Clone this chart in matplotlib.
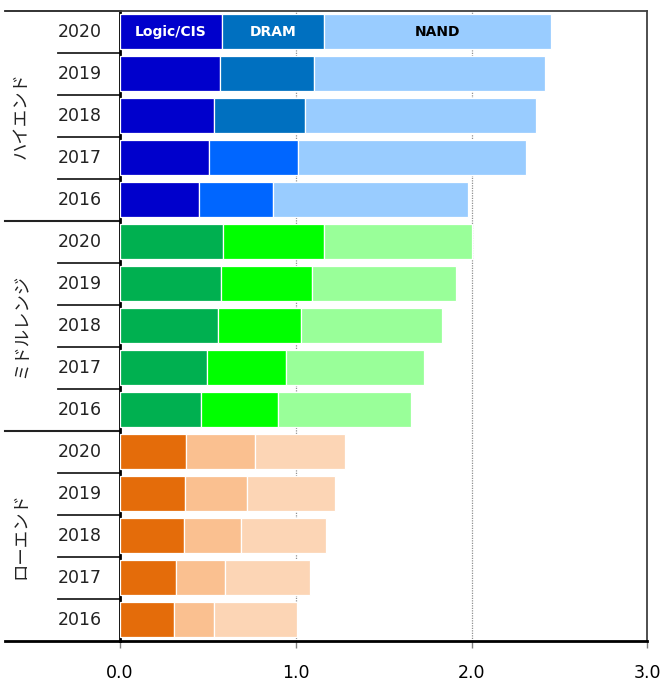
import matplotlib
matplotlib.use("Agg")
import matplotlib.pyplot as plt
import matplotlib.transforms as mtransforms

plt.rcParams['font.family'] = ['DejaVu Sans', 'Noto Sans CJK JP']

groups = ["ハイエンド", "ミドルレンジ", "ローエンド"]
years = ["2020", "2019", "2018", "2017", "2016"]
segments = ["Logic/CIS", "DRAM", "NAND"]

# values per group, years 2020 -> 2016
high_logic = [0.58, 0.57, 0.537, 0.505, 0.448]
high_dram = [0.58, 0.536, 0.516, 0.506, 0.425]
high_nand = [1.29, 1.314, 1.311, 1.298, 1.107]

mid_logic = [0.584, 0.577, 0.56, 0.495, 0.461]
mid_dram = [0.577, 0.516, 0.47, 0.448, 0.439]
mid_nand = [0.839, 0.819, 0.801, 0.789, 0.758]

low_logic = [0.376, 0.37, 0.364, 0.317, 0.309]
low_dram = [0.394, 0.353, 0.325, 0.283, 0.226]
low_nand = [0.51, 0.502, 0.481, 0.481, 0.47]

xticks = [0.0, 1.0, 2.0, 3.0]
xticklabels = ["0.0", "1.0", "2.0", "3.0"]

colors = {
    0: [["#0000CC"] * 5, ["#0070C0", "#0070C0", "#0070C0", "#0066FF", "#0066FF"], ["#99CCFF"] * 5],
    1: [["#00B050"] * 5, ["#00FF00"] * 5, ["#99FF99"] * 5],
    2: [["#E46C0A"] * 5, ["#FAC090"] * 5, ["#FCD5B5"] * 5],
}
data = [
    [high_logic, high_dram, high_nand],
    [mid_logic, mid_dram, mid_nand],
    [low_logic, low_dram, low_nand],
]

W, H = 660, 682
fig = plt.figure(figsize=(W / 100, H / 100), dpi=100)
left, right, top, bottom = 120, 647.3, 10.5, 640.7
ax = fig.add_axes([left / W, 1 - bottom / H, (right - left) / W, (bottom - top) / H])

bh = 0.84
for g in range(3):
    lefts = [0.0] * 5
    for s in range(3):
        vals = data[g][s]
        ys = [g * 5 + i for i in range(5)]
        ax.barh(ys, vals, left=lefts, height=bh, color=colors[g][s],
                edgecolor="white", linewidth=0.9, zorder=3)
        if g == 0:
            cx = lefts[0] + vals[0] / 2
            ax.text(cx, 0, segments[s], ha="center", va="center",
                    fontsize=10, fontweight="bold",
                    color="black" if s == 2 else "white", zorder=4)
        lefts = [a + b for a, b in zip(lefts, vals)]

ax.set_ylim(14.5, -0.5)
ax.set_xlim(0, 3.0)
ax.set_xticks(xticks)
ax.set_xticklabels(xticklabels, fontsize=12.5)
ax.set_yticks([])
ax.tick_params(axis="x", direction="out", length=5, width=1, color="#808080", pad=12)

for x in (1.0, 2.0):
    ax.axvline(x, color="#909090", linestyle=(0, (1, 1)), linewidth=0.9, zorder=1)

for sp in ("left", "bottom"):
    ax.spines[sp].set_linewidth(2)
    ax.spines[sp].set_color("black")
for sp in ("top", "right"):
    ax.spines[sp].set_linewidth(1.3)
    ax.spines[sp].set_color("#404040")

trans = mtransforms.blended_transform_factory(ax.transAxes, ax.transData)
ax_w = right - left
def ax_x(px):
    return (px - left) / ax_w

# year labels and separators
for g in range(3):
    for i, yr in enumerate(years):
        row = g * 5 + i
        ax.text(ax_x(80), row, yr, transform=trans, ha="center", va="center",
                fontsize=12.5, color="#222222")
        if i > 0:
            ax.plot([ax_x(58), 0], [row - 0.5, row - 0.5], transform=trans,
                    color="#222222", linewidth=1.3, clip_on=False)
    ax.text(ax_x(21), g * 5 + 2, groups[g], transform=trans, rotation=90,
            ha="center", va="center", fontsize=12.5, color="#222222",
            family=["Noto Sans CJK JP", "DejaVu Sans"])

for yb in (-0.5, 4.5, 9.5):
    ax.plot([ax_x(5), 0], [yb, yb], transform=trans, color="#222222",
            linewidth=1.5 if yb > 0 else 1.3, clip_on=False)
ax.plot([ax_x(5), 0], [14.5, 14.5], transform=trans, color="black",
        linewidth=2, clip_on=False)

fig.savefig("out.png", dpi=100)
